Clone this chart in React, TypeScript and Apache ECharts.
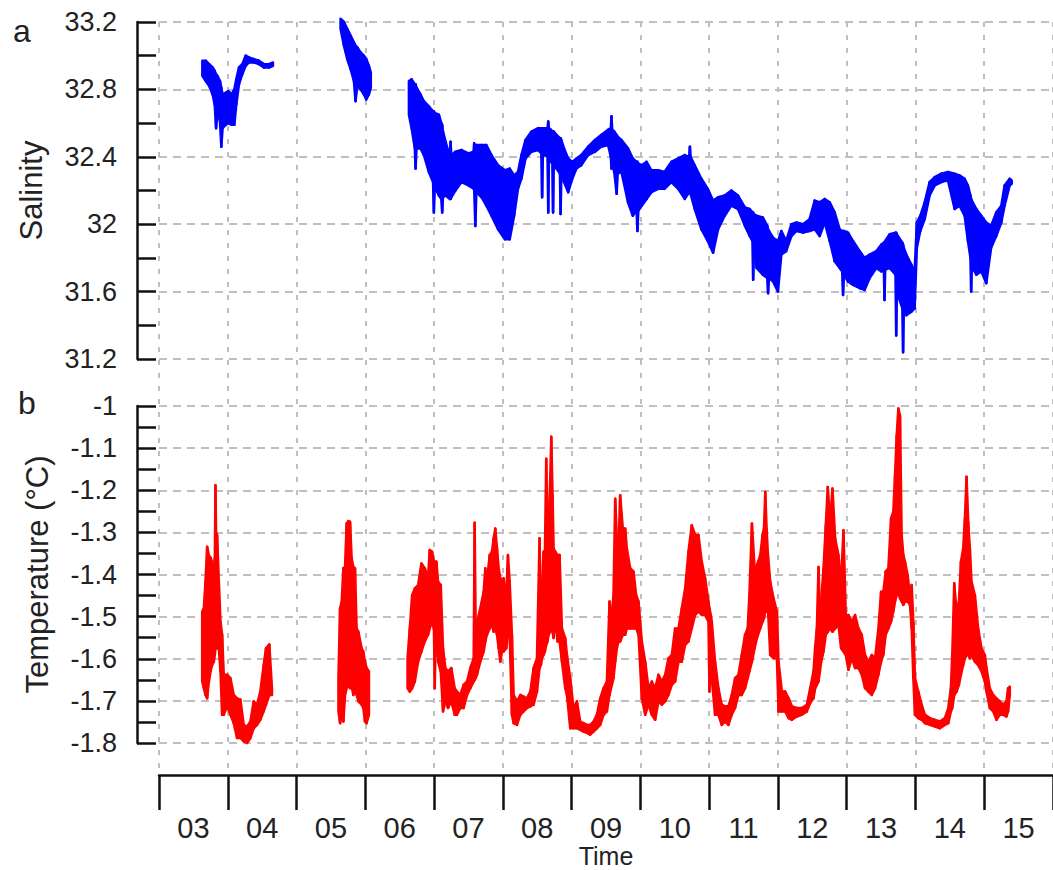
import React, { useEffect, useRef } from 'react';
import * as echarts from 'echarts';

const dayLabels = ['03', '04', '05', '06', '07', '08', '09', '10', '11', '12', '13', '14', '15'];

// [day, low, high] envelopes of the salinity record
const salinity1 = [
  [3.63, 32.88, 32.97], [3.68, 32.85, 32.97], [3.73, 32.82, 32.95], [3.78, 32.77, 32.93],
  [3.81, 32.71, 32.91], [3.83, 32.57, 32.89], [3.85, 32.67, 32.88], [3.887, 32.61, 32.85],
  [3.906, 32.46, 32.81], [3.925, 32.57, 32.77], [3.97, 32.59, 32.78], [4.008, 32.6, 32.79],
  [4.056, 32.59, 32.77], [4.095, 32.59, 32.8], [4.124, 32.71, 32.86], [4.163, 32.83, 32.93],
  [4.211, 32.89, 32.95], [4.26, 32.94, 33.0], [4.308, 32.96, 32.99], [4.381, 32.96, 32.98],
  [4.453, 32.95, 32.97], [4.526, 32.93, 32.95], [4.599, 32.93, 32.95], [4.657, 32.94, 32.96],
];

const salinity2 = [
  [5.64, 33.16, 33.22], [5.689, 33.06, 33.2], [5.737, 32.98, 33.16], [5.786, 32.92, 33.12],
  [5.834, 32.85, 33.08], [5.858, 32.73, 33.06], [5.883, 32.82, 33.05], [5.931, 32.8, 33.02],
  [5.98, 32.77, 33.0], [6.014, 32.74, 32.98], [6.052, 32.77, 32.94], [6.08, 32.81, 32.9],
];

const salinity3 = [
  [6.634, 32.65, 32.85], [6.673, 32.57, 32.86], [6.72, 32.45, 32.83], [6.731, 32.33, 32.83],
  [6.745, 32.45, 32.81], [6.803, 32.45, 32.77], [6.852, 32.41, 32.73], [6.924, 32.31, 32.7],
  [6.985, 32.25, 32.67], [6.997, 32.07, 32.67], [7.01, 32.22, 32.66], [7.07, 32.17, 32.65],
  [7.105, 32.15, 32.6], [7.118, 32.07, 32.59], [7.13, 32.16, 32.55], [7.167, 32.17, 32.49],
  [7.23, 32.15, 32.4], [7.24, 32.15, 32.49], [7.25, 32.16, 32.41], [7.31, 32.2, 32.43],
  [7.4, 32.25, 32.44], [7.5, 32.23, 32.42], [7.575, 32.21, 32.43], [7.583, 32.21, 32.48],
  [7.6, 31.99, 32.46], [7.615, 32.19, 32.47], [7.69, 32.16, 32.47], [7.76, 32.11, 32.47],
  [7.835, 32.05, 32.41], [7.93, 31.97, 32.35], [8.03, 31.91, 32.32], [8.1, 31.91, 32.33],
  [8.164, 32.05, 32.29], [8.22, 32.21, 32.31], [8.27, 32.27, 32.41], [8.33, 32.39, 32.5],
  [8.416, 32.43, 32.55], [8.513, 32.44, 32.57], [8.56, 32.42, 32.57], [8.571, 32.16, 32.57],
  [8.582, 32.42, 32.57], [8.61, 32.41, 32.57], [8.65, 32.4, 32.57], [8.66, 32.07, 32.61],
  [8.67, 32.38, 32.57], [8.7, 32.37, 32.56], [8.72, 32.36, 32.55], [8.73, 32.07, 32.55],
  [8.74, 32.35, 32.55], [8.78, 32.33, 32.53], [8.83, 32.3, 32.51], [8.84, 32.06, 32.51],
  [8.85, 32.28, 32.5], [8.89, 32.25, 32.45], [8.95, 32.19, 32.39], [9.01, 32.27, 32.37],
  [9.07, 32.33, 32.39], [9.14, 32.35, 32.41], [9.24, 32.41, 32.46], [9.34, 32.43, 32.5],
  [9.43, 32.46, 32.53], [9.53, 32.47, 32.56], [9.57, 32.4, 32.57], [9.58, 32.33, 32.64],
  [9.59, 32.35, 32.56], [9.62, 32.31, 32.55], [9.655, 32.18, 32.53], [9.67, 32.3, 32.52],
  [9.725, 32.31, 32.5], [9.82, 32.13, 32.45], [9.89, 32.05, 32.39], [9.945, 32.08, 32.37],
  [9.957, 31.96, 32.37], [9.97, 32.08, 32.36], [10.02, 32.11, 32.35], [10.09, 32.15, 32.37],
  [10.16, 32.19, 32.32], [10.26, 32.21, 32.32], [10.35, 32.21, 32.31], [10.45, 32.25, 32.37],
  [10.55, 32.21, 32.39], [10.645, 32.15, 32.41], [10.71, 32.19, 32.4], [10.72, 32.19, 32.46],
  [10.73, 32.18, 32.4], [10.79, 32.09, 32.35], [10.887, 31.97, 32.27], [10.98, 31.9, 32.21],
  [11.057, 31.83, 32.14], [11.13, 31.97, 32.16], [11.226, 32.05, 32.17], [11.323, 32.11, 32.2],
  [11.42, 32.09, 32.17], [11.52, 31.99, 32.1], [11.59, 31.93, 32.09], [11.63, 31.9, 32.07],
  [11.64, 31.67, 32.07], [11.65, 31.85, 32.06], [11.69, 31.74, 32.05], [11.78, 31.7, 32.04],
  [11.845, 31.68, 31.99], [11.857, 31.59, 31.97], [11.87, 31.68, 31.96], [11.93, 31.66, 31.92],
  [12.0, 31.6, 31.9], [12.05, 31.82, 31.96], [12.12, 31.84, 31.9], [12.196, 31.93, 32.0],
  [12.27, 31.96, 32.01], [12.365, 31.95, 32.0], [12.46, 31.96, 32.03], [12.535, 31.97, 32.14],
  [12.607, 31.93, 32.13], [12.68, 32.01, 32.15], [12.753, 31.9, 32.13], [12.825, 31.78, 32.07],
  [12.898, 31.74, 31.97], [12.935, 31.72, 31.96], [12.947, 31.58, 31.96], [12.96, 31.7, 31.96],
  [13.02, 31.66, 31.95], [13.092, 31.64, 31.9], [13.19, 31.62, 31.84], [13.26, 31.61, 31.8],
  [13.334, 31.68, 31.82], [13.43, 31.74, 31.84], [13.504, 31.72, 31.88], [13.54, 31.73, 31.89],
  [13.55, 31.55, 31.89], [13.56, 31.73, 31.9], [13.625, 31.74, 31.94], [13.71, 31.7, 31.95],
  [13.72, 31.34, 31.95], [13.73, 31.62, 31.94], [13.76, 31.56, 31.92], [13.81, 31.5, 31.89],
  [13.82, 31.24, 31.88], [13.83, 31.48, 31.86], [13.867, 31.46, 31.82], [13.94, 31.48, 31.76],
  [13.988, 31.5, 31.72], [14.02, 31.86, 32.01], [14.07, 31.96, 32.05], [14.134, 32.03, 32.13],
  [14.206, 32.17, 32.25], [14.28, 32.23, 32.28], [14.376, 32.25, 32.3], [14.473, 32.26, 32.31],
  [14.57, 32.09, 32.3], [14.64, 32.11, 32.29], [14.715, 32.05, 32.27], [14.763, 31.9, 32.23],
  [14.8, 31.8, 32.17], [14.81, 31.6, 32.15], [14.82, 31.75, 32.14], [14.885, 31.7, 32.09],
  [14.957, 31.72, 32.05], [15.03, 31.65, 32.01], [15.1, 31.86, 31.99], [15.175, 31.93, 32.07],
  [15.248, 32.01, 32.11], [15.296, 32.11, 32.23], [15.37, 32.23, 32.27], [15.4, 32.24, 32.26],
];

// [day, low, high] envelopes of the temperature record (°C)
const temperature1 = [
  [3.628, -1.654, -1.488], [3.652, -1.67, -1.48], [3.676, -1.686, -1.417], [3.7, -1.694, -1.334],
  [3.725, -1.654, -1.354], [3.75, -1.63, -1.36], [3.773, -1.615, -1.37], [3.797, -1.607, -1.393],
  [3.812, -1.59, -1.36], [3.821, -1.575, -1.188], [3.83, -1.575, -1.3], [3.845, -1.575, -1.306],
  [3.87, -1.575, -1.417], [3.894, -1.63, -1.512], [3.918, -1.733, -1.543], [3.942, -1.733, -1.638],
  [3.99, -1.713, -1.638], [4.039, -1.733, -1.646], [4.087, -1.753, -1.686], [4.135, -1.788, -1.694],
  [4.184, -1.788, -1.697], [4.232, -1.796, -1.757], [4.28, -1.8, -1.761], [4.329, -1.788, -1.749],
  [4.377, -1.765, -1.701], [4.425, -1.757, -1.709], [4.473, -1.745, -1.678], [4.522, -1.725, -1.615],
  [4.556, -1.709, -1.575], [4.604, -1.686, -1.566], [4.643, -1.686, -1.67],
];

const temperature2 = [
  [5.609, -1.725, -1.646], [5.633, -1.753, -1.48], [5.657, -1.733, -1.464], [5.681, -1.749, -1.385],
  [5.705, -1.686, -1.382], [5.729, -1.67, -1.279], [5.754, -1.662, -1.273], [5.778, -1.67, -1.275],
  [5.802, -1.666, -1.362], [5.826, -1.686, -1.382], [5.85, -1.67, -1.385], [5.874, -1.686, -1.528],
  [5.899, -1.701, -1.536], [5.947, -1.709, -1.575], [5.971, -1.717, -1.583], [5.995, -1.749, -1.607],
  [6.019, -1.753, -1.622], [6.053, -1.733, -1.63],
];

const temperature3 = [
  [6.614, -1.67, -1.599], [6.647, -1.678, -1.528], [6.681, -1.67, -1.449], [6.72, -1.654, -1.433],
  [6.768, -1.607, -1.425], [6.816, -1.583, -1.374], [6.865, -1.559, -1.385], [6.913, -1.543, -1.405],
  [6.937, -1.528, -1.342], [6.971, -1.512, -1.346], [6.998, -1.53, -1.37], [7.01, -1.67, -1.37],
  [7.022, -1.55, -1.37], [7.034, -1.559, -1.37], [7.058, -1.607, -1.417], [7.097, -1.63, -1.425],
  [7.13, -1.725, -1.575], [7.164, -1.701, -1.622], [7.203, -1.717, -1.63], [7.251, -1.701, -1.622],
  [7.3, -1.733, -1.67], [7.333, -1.733, -1.678], [7.382, -1.717, -1.686], [7.43, -1.717, -1.662],
  [7.479, -1.686, -1.654], [7.527, -1.67, -1.622], [7.576, -1.654, -1.599], [7.59, -1.65, -1.277],
  [7.605, -1.646, -1.528], [7.624, -1.638, -1.512], [7.672, -1.607, -1.48], [7.721, -1.583, -1.441],
  [7.745, -1.559, -1.385], [7.769, -1.543, -1.417], [7.808, -1.528, -1.354], [7.842, -1.52, -1.346],
  [7.866, -1.536, -1.314], [7.89, -1.528, -1.291], [7.915, -1.543, -1.338], [7.939, -1.575, -1.385],
  [7.963, -1.607, -1.409], [7.987, -1.583, -1.417], [8.011, -1.583, -1.409], [8.05, -1.575, -1.449],
  [8.074, -1.543, -1.354], [8.099, -1.543, -1.417], [8.132, -1.733, -1.543], [8.157, -1.753, -1.686],
  [8.205, -1.757, -1.701], [8.254, -1.733, -1.686], [8.302, -1.725, -1.69], [8.35, -1.717, -1.694],
  [8.399, -1.713, -1.678], [8.447, -1.709, -1.622], [8.496, -1.678, -1.599], [8.534, -1.622, -1.314],
  [8.554, -1.615, -1.528], [8.568, -1.599, -1.433], [8.592, -1.591, -1.346], [8.612, -1.583, -1.346],
  [8.631, -1.567, -1.125], [8.65, -1.559, -1.306], [8.665, -1.543, -1.283], [8.689, -1.536, -1.172],
  [8.704, -1.528, -1.073], [8.723, -1.536, -1.212], [8.738, -1.551, -1.338], [8.762, -1.512, -1.346],
  [8.796, -1.559, -1.354], [8.825, -1.559, -1.354], [8.859, -1.607, -1.528], [8.907, -1.67, -1.551],
  [8.932, -1.686, -1.591], [8.98, -1.765, -1.646], [9.028, -1.765, -1.717], [9.077, -1.765, -1.701],
  [9.125, -1.769, -1.749], [9.174, -1.773, -1.753], [9.222, -1.776, -1.757], [9.27, -1.78, -1.757],
  [9.319, -1.773, -1.749], [9.367, -1.765, -1.733], [9.416, -1.757, -1.694], [9.464, -1.733, -1.67],
  [9.513, -1.725, -1.654], [9.551, -1.686, -1.464], [9.585, -1.662, -1.496], [9.609, -1.646, -1.449],
  [9.634, -1.607, -1.22], [9.658, -1.575, -1.314], [9.682, -1.559, -1.338], [9.706, -1.559, -1.212],
  [9.745, -1.543, -1.291], [9.779, -1.543, -1.291], [9.803, -1.528, -1.338], [9.852, -1.528, -1.385],
  [9.9, -1.528, -1.393], [9.939, -1.528, -1.449], [9.973, -1.543, -1.464], [10.021, -1.694, -1.559],
  [10.07, -1.733, -1.607], [10.118, -1.709, -1.67], [10.166, -1.733, -1.654], [10.215, -1.745, -1.67],
  [10.263, -1.701, -1.638], [10.312, -1.709, -1.654], [10.36, -1.701, -1.638], [10.408, -1.686, -1.599],
  [10.457, -1.662, -1.591], [10.505, -1.654, -1.528], [10.554, -1.607, -1.528], [10.602, -1.607, -1.48],
  [10.651, -1.567, -1.433], [10.699, -1.559, -1.346], [10.747, -1.528, -1.283], [10.796, -1.496, -1.306],
  [10.844, -1.488, -1.306], [10.893, -1.496, -1.37], [10.941, -1.496, -1.409], [10.99, -1.512, -1.464],
  [11.004, -1.678, -1.48], [11.024, -1.575, -1.496], [11.038, -1.646, -1.512], [11.086, -1.733, -1.607],
  [11.135, -1.733, -1.67], [11.183, -1.757, -1.709], [11.232, -1.749, -1.713], [11.28, -1.757, -1.713],
  [11.328, -1.733, -1.686], [11.377, -1.717, -1.646], [11.425, -1.686, -1.638], [11.474, -1.686, -1.591],
  [11.522, -1.67, -1.543], [11.56, -1.646, -1.528], [11.585, -1.63, -1.449], [11.622, -1.607, -1.279],
  [11.661, -1.575, -1.385], [11.695, -1.551, -1.378], [11.743, -1.528, -1.354], [11.777, -1.512, -1.306],
  [11.797, -1.504, -1.291], [11.816, -1.488, -1.204], [11.835, -1.488, -1.291], [11.855, -1.48, -1.354],
  [11.888, -1.591, -1.417], [11.937, -1.599, -1.457], [11.985, -1.599, -1.488], [12.009, -1.725, -1.607],
  [12.058, -1.725, -1.678], [12.106, -1.725, -1.678], [12.155, -1.741, -1.694], [12.203, -1.745, -1.713],
  [12.275, -1.737, -1.717], [12.348, -1.733, -1.717], [12.421, -1.725, -1.709], [12.469, -1.705, -1.67],
  [12.517, -1.694, -1.63], [12.542, -1.67, -1.571], [12.566, -1.662, -1.528], [12.59, -1.654, -1.382],
  [12.61, -1.63, -1.488], [12.629, -1.607, -1.464], [12.663, -1.583, -1.385], [12.696, -1.543, -1.283],
  [12.725, -1.536, -1.192], [12.759, -1.528, -1.275], [12.793, -1.536, -1.196], [12.832, -1.528, -1.314],
  [12.88, -1.52, -1.354], [12.919, -1.575, -1.417], [12.953, -1.583, -1.295], [12.987, -1.591, -1.496],
  [13.025, -1.626, -1.496], [13.074, -1.599, -1.512], [13.122, -1.622, -1.496], [13.171, -1.622, -1.528],
  [13.219, -1.638, -1.543], [13.267, -1.67, -1.591], [13.316, -1.678, -1.607], [13.364, -1.686, -1.591],
  [13.412, -1.67, -1.599], [13.461, -1.638, -1.528], [13.5, -1.607, -1.441], [13.533, -1.591, -1.441],
  [13.567, -1.543, -1.393], [13.606, -1.528, -1.385], [13.645, -1.512, -1.267], [13.678, -1.488, -1.251],
  [13.703, -1.464, -1.164], [13.727, -1.449, -1.07], [13.751, -1.441, -1.006], [13.775, -1.457, -1.022],
  [13.799, -1.464, -1.306], [13.824, -1.472, -1.354], [13.848, -1.464, -1.37], [13.886, -1.464, -1.401],
  [13.92, -1.472, -1.449], [13.945, -1.528, -1.425], [13.969, -1.646, -1.512], [13.993, -1.733, -1.646],
  [14.041, -1.741, -1.678], [14.09, -1.745, -1.709], [14.138, -1.753, -1.733], [14.211, -1.757, -1.741],
  [14.283, -1.761, -1.745], [14.356, -1.765, -1.749], [14.428, -1.757, -1.741], [14.477, -1.753, -1.717],
  [14.515, -1.725, -1.67], [14.535, -1.717, -1.591], [14.564, -1.686, -1.421], [14.598, -1.678, -1.488],
  [14.632, -1.662, -1.464], [14.661, -1.638, -1.37], [14.694, -1.615, -1.338], [14.719, -1.599, -1.267],
  [14.743, -1.591, -1.168], [14.767, -1.591, -1.275], [14.791, -1.599, -1.338], [14.815, -1.591, -1.417],
  [14.864, -1.607, -1.449], [14.912, -1.615, -1.528], [14.96, -1.63, -1.575], [15.009, -1.654, -1.591],
  [15.033, -1.678, -1.622], [15.081, -1.717, -1.67], [15.13, -1.725, -1.686], [15.178, -1.745, -1.694],
  [15.226, -1.733, -1.701], [15.275, -1.733, -1.709], [15.323, -1.737, -1.701], [15.347, -1.725, -1.67],
  [15.372, -1.686, -1.666],
];

const FONT = '"Liberation Sans", Arial, Helvetica, sans-serif';
const GRID_COLOR = '#bfbfbf';
const AXIS_COLOR = '#111';
const TEXT_COLOR = '#222';

function toQuads(seg: number[][]) {
  const out: number[][] = [];
  for (let i = 0; i < seg.length - 1; i++) {
    out.push([seg[i][0], seg[i][1], seg[i][2], seg[i + 1][0], seg[i + 1][1], seg[i + 1][2]]);
  }
  return out;
}

function bandSeries(segs: number[][][], axisIndex: number, color: string) {
  const data: number[][] = [];
  segs.forEach((s) => toQuads(s).forEach((q) => data.push(q)));
  return {
    type: 'custom',
    coordinateSystem: 'cartesian2d',
    xAxisIndex: axisIndex,
    yAxisIndex: axisIndex,
    silent: true,
    clip: false,
    encode: { x: [0, 3], y: [1, 2, 4, 5] },
    data,
    renderItem: (_params: any, api: any) => {
      const a = api.coord([api.value(0), api.value(1)]);
      const b = api.coord([api.value(0), api.value(2)]);
      const c = api.coord([api.value(3), api.value(5)]);
      const d = api.coord([api.value(3), api.value(4)]);
      return {
        type: 'polygon',
        shape: { points: [a, b, c, d] },
        style: { fill: color, stroke: color, lineWidth: 2.5, lineJoin: 'round' },
      };
    },
  };
}

function valueYAxis(gridIndex: number, min: number, max: number, interval: number, name: string, nameGap: number) {
  return {
    gridIndex,
    type: 'value',
    min,
    max,
    interval,
    offset: 22,
    name,
    nameLocation: 'middle',
    nameGap,
    nameMoveOverlap: false,
    nameTextStyle: { fontSize: 31, color: TEXT_COLOR, fontFamily: FONT },
    axisLine: { show: true, lineStyle: { color: AXIS_COLOR, width: 2.5 } },
    axisTick: { show: true, inside: true, length: 19, lineStyle: { color: AXIS_COLOR, width: 2.5 } },
    minorTick: { show: true, splitNumber: 2, length: 19, lineStyle: { color: AXIS_COLOR, width: 2.5 } },
    axisLabel: { margin: 20, fontSize: 27, color: TEXT_COLOR, fontFamily: FONT },
    splitLine: { show: true, lineStyle: { color: GRID_COLOR, width: 2, type: [8, 6] } },
    minorSplitLine: { show: false },
  };
}

export default function App() {
  const ref = useRef<HTMLDivElement>(null);

  useEffect(() => {
    document.body.style.margin = '0';
    if (!ref.current) return;
    const chart = echarts.init(ref.current, undefined, { renderer: 'svg' });
    const option: any = {
      animation: false,
      backgroundColor: '#ffffff',
      grid: [
        { left: 159, top: 22, width: 894, height: 337, outerBoundsMode: 'none', containLabel: false },
        { left: 159, top: 406, width: 894, height: 337, outerBoundsMode: 'none', containLabel: false },
        { left: 159, top: 22, width: 894, height: 753, outerBoundsMode: 'none', containLabel: false },
      ],
      xAxis: [
        { gridIndex: 0, type: 'value', min: 3, max: 16, show: false },
        { gridIndex: 1, type: 'value', min: 3, max: 16, show: false },
        {
          gridIndex: 2,
          type: 'category',
          data: dayLabels,
          boundaryGap: true,
          name: 'Time',
          nameLocation: 'middle',
          nameGap: 68,
          nameMoveOverlap: false,
          nameTextStyle: { fontSize: 25, lineHeight: 25, color: TEXT_COLOR, fontFamily: FONT },
          axisLine: { show: true, lineStyle: { color: AXIS_COLOR, width: 2.5 } },
          axisTick: { show: true, length: 35, interval: 0, lineStyle: { color: AXIS_COLOR, width: 2.5 } },
          axisLabel: { interval: 0, margin: 38, fontSize: 29, lineHeight: 29, color: TEXT_COLOR, fontFamily: FONT },
          splitLine: { show: true, interval: 0, lineStyle: { color: GRID_COLOR, width: 2, type: [5, 8] } },
        },
      ],
      yAxis: [
        valueYAxis(0, 31.2, 33.2, 0.4, 'Salinity', 90),
        valueYAxis(1, -1.8, -1.0, 0.1, 'Temperature (°C)', 84),
        { gridIndex: 2, type: 'value', show: false },
      ],
      graphic: [
        { type: 'text', left: 13, top: 15, style: { text: 'a', fontSize: 32, fill: TEXT_COLOR, font: `32px ${FONT}` } },
        { type: 'text', left: 18, top: 387, style: { text: 'b', fontSize: 32, fill: TEXT_COLOR, font: `32px ${FONT}` } },
      ],
      series: [
        bandSeries([salinity1, salinity2, salinity3], 0, '#0000ff'),
        bandSeries([temperature1, temperature2, temperature3], 1, '#ff0000'),
      ],
    };
    chart.setOption(option);
    return () => chart.dispose();
  }, []);

  return <div ref={ref} style={{ width: 1053, height: 870, overflow: 'hidden' }} />;
}
